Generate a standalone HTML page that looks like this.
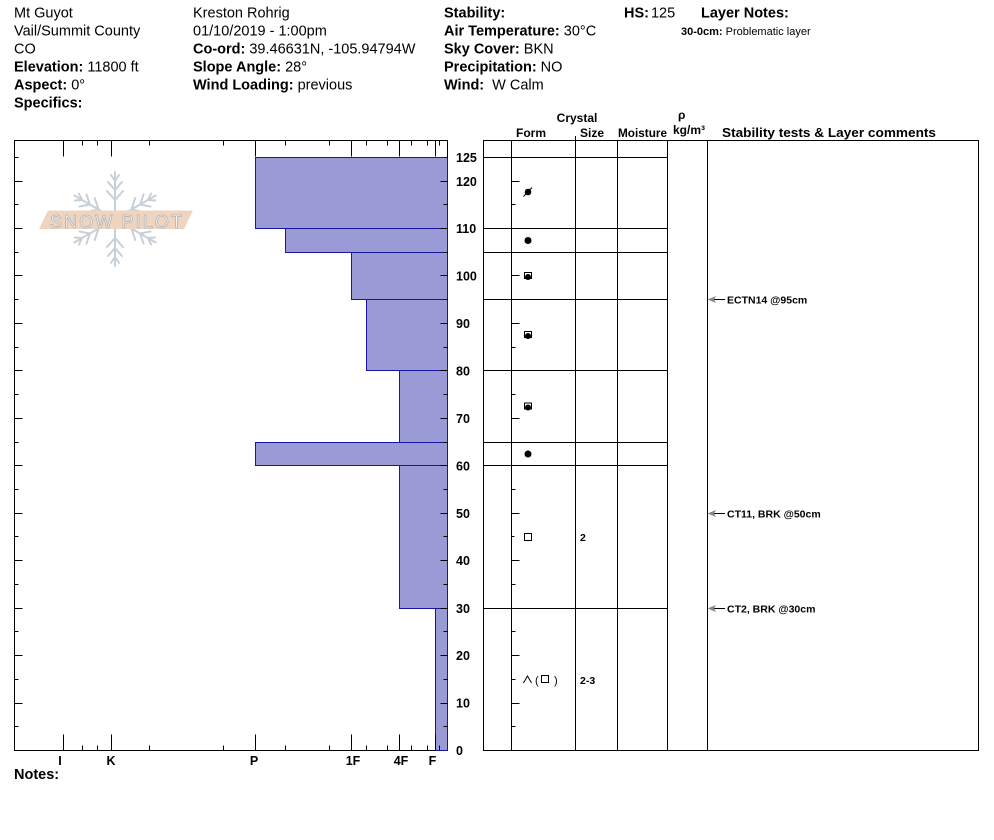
<!DOCTYPE html>
<html><head><meta charset="utf-8"><style>
html,body{margin:0;padding:0;background:#fff;}
svg{display:block;}
text{font-family:"Liberation Sans",Arial,sans-serif;}
.b{font-weight:bold;}
</style></head><body>
<svg width="994" height="840" viewBox="0 0 994 840" xmlns="http://www.w3.org/2000/svg">
<rect x="0" y="0" width="994" height="840" fill="#fff"/>

<!-- Header column 1 -->
<g font-size="14.5" fill="#000">
<text x="14" y="17.3">Mt Guyot</text>
<text x="14" y="35.3">Vail/Summit County</text>
<text x="14" y="53.3">CO</text>
<text x="14" y="71.3"><tspan class="b">Elevation:</tspan> 11800 ft</text>
<text x="14" y="89.3"><tspan class="b">Aspect:</tspan> 0°</text>
<text x="14" y="107.3" class="b">Specifics:</text>

<text x="193" y="17.3">Kreston Rohrig</text>
<text x="193" y="35.3">01/10/2019 - 1:00pm</text>
<text x="193" y="53.3"><tspan class="b">Co-ord:</tspan> 39.46631N, -105.94794W</text>
<text x="193" y="71.3"><tspan class="b">Slope Angle:</tspan> 28°</text>
<text x="193" y="89.3"><tspan class="b">Wind Loading:</tspan> previous</text>

<text x="444" y="17.3" class="b">Stability:</text>
<text x="444" y="35.3"><tspan class="b">Air Temperature:</tspan> 30°C</text>
<text x="444" y="53.3"><tspan class="b">Sky Cover:</tspan> BKN</text>
<text x="444" y="71.3"><tspan class="b">Precipitation:</tspan> NO</text>
<text x="444" y="89.3"><tspan class="b">Wind:</tspan><tspan dx="8">W Calm</tspan></text>

<text x="624" y="17.3"><tspan class="b">HS:</tspan><tspan dx="2">125</tspan></text>
<text x="701" y="17.3" class="b">Layer Notes:</text>
</g>
<text x="681" y="35" font-size="11" fill="#000"><tspan class="b">30-0cm:</tspan> Problematic layer</text>

<!-- Table header -->
<g font-size="12" fill="#000">
<text x="577" y="122" text-anchor="middle" class="b">Crystal</text>
<text x="516" y="137" class="b">Form</text>
<text x="580" y="137" class="b">Size</text>
<text x="618" y="137" class="b" textLength="49" lengthAdjust="spacingAndGlyphs">Moisture</text>
<text x="678" y="119" class="b">ρ</text>
<text x="673" y="134" class="b">kg/m³</text>
<text x="722" y="137" class="b" font-size="12.5" textLength="214" lengthAdjust="spacingAndGlyphs">Stability tests &amp; Layer comments</text>
</g>

<!-- Logo -->
<g transform="translate(115,219)" stroke="#c7d0d8" stroke-width="2" stroke-linecap="round" fill="none">
  <path d="M0,-6 V-47 M0,-19 L-8,-28 M0,-19 L8,-28 M0,-29 L-7,-37 M0,-29 L7,-37 M0,-38 L-4,-44 M0,-38 L4,-44"/>
  <g transform="rotate(60)"><path d="M0,-6 V-47 M0,-19 L-8,-28 M0,-19 L8,-28 M0,-29 L-7,-37 M0,-29 L7,-37 M0,-38 L-4,-44 M0,-38 L4,-44"/></g>
  <g transform="rotate(120)"><path d="M0,-6 V-47 M0,-19 L-8,-28 M0,-19 L8,-28 M0,-29 L-7,-37 M0,-29 L7,-37 M0,-38 L-4,-44 M0,-38 L4,-44"/></g>
  <g transform="rotate(180)"><path d="M0,-6 V-47 M0,-19 L-8,-28 M0,-19 L8,-28 M0,-29 L-7,-37 M0,-29 L7,-37 M0,-38 L-4,-44 M0,-38 L4,-44"/></g>
  <g transform="rotate(240)"><path d="M0,-6 V-47 M0,-19 L-8,-28 M0,-19 L8,-28 M0,-29 L-7,-37 M0,-29 L7,-37 M0,-38 L-4,-44 M0,-38 L4,-44"/></g>
  <g transform="rotate(300)"><path d="M0,-6 V-47 M0,-19 L-8,-28 M0,-19 L8,-28 M0,-29 L-7,-37 M0,-29 L7,-37 M0,-38 L-4,-44 M0,-38 L4,-44"/></g>
</g>
<polygon points="48,210.5 193,210.5 184,229 39,229" fill="#efd5c0"/>
<text x="50" y="228" font-size="18" style="fill:#f8f8f8;stroke:#adadad;stroke-width:0.7" textLength="132" lengthAdjust="spacing">SNOW PILOT</text>

<!-- Left chart frame -->
<path d="M14.5,140.5 H447.5 V750.5 H14.5 Z" fill="none" stroke="#000" stroke-width="1"/>

<!-- Bars -->
<g fill="#9a9ad6" stroke="#1616a2" stroke-width="1">
<rect x="255.5" y="157.5" width="192" height="71"/>
<rect x="285.5" y="228.5" width="162" height="24"/>
<rect x="351.5" y="252.5" width="96" height="47"/>
<rect x="366.5" y="299.5" width="81" height="71"/>
<rect x="399.5" y="370.5" width="48" height="72"/>
<rect x="255.5" y="442.5" width="192" height="23"/>
<rect x="399.5" y="465.5" width="48" height="143"/>
<rect x="435.5" y="608.5" width="12" height="142"/>
</g>

<!-- Ticks -->
<g stroke="#000" stroke-width="1" fill="none">
<path d="M63.5,140.5v16 M111.5,140.5v16 M255.5,140.5v16 M351.5,140.5v16 M399.5,140.5v16 M435.5,140.5v16
M82.5,140.5v5 M97.5,140.5v5 M149.5,140.5v5 M223.5,140.5v5 M285.5,140.5v5 M329.5,140.5v5 M366.5,140.5v5 M387.5,140.5v5 M411.5,140.5v5 M427.5,140.5v5 M439.5,140.5v5
M63.5,750.5v-16 M111.5,750.5v-16 M255.5,750.5v-16 M351.5,750.5v-16 M399.5,750.5v-16 M435.5,750.5v-16
M82.5,750.5v-5 M97.5,750.5v-5 M149.5,750.5v-5 M223.5,750.5v-5 M285.5,750.5v-5 M329.5,750.5v-5 M366.5,750.5v-5 M387.5,750.5v-5 M411.5,750.5v-5 M427.5,750.5v-5 M439.5,750.5v-5"/>
<path d="M14.5,726.5h4 M14.5,703.5h8 M14.5,679.5h4 M14.5,655.5h8 M14.5,631.5h4 M14.5,608.5h8 M14.5,584.5h4 M14.5,560.5h8 M14.5,536.5h4 M14.5,513.5h8 M14.5,489.5h4 M14.5,465.5h8 M14.5,442.5h4 M14.5,418.5h8 M14.5,394.5h4 M14.5,370.5h8 M14.5,347.5h4 M14.5,323.5h8 M14.5,299.5h4 M14.5,275.5h8 M14.5,252.5h4 M14.5,228.5h8 M14.5,204.5h4 M14.5,181.5h8 M14.5,157.5h4"/>
<path d="M447.5,726.5h-4 M447.5,703.5h-7 M447.5,679.5h-4 M447.5,655.5h-7 M447.5,631.5h-4 M447.5,608.5h-7 M447.5,584.5h-4 M447.5,560.5h-7 M447.5,536.5h-4 M447.5,513.5h-7 M447.5,489.5h-4 M447.5,465.5h-7 M447.5,442.5h-4 M447.5,418.5h-7 M447.5,394.5h-4 M447.5,370.5h-7 M447.5,347.5h-4 M447.5,323.5h-7 M447.5,299.5h-4 M447.5,275.5h-7 M447.5,252.5h-4 M447.5,228.5h-7 M447.5,204.5h-4 M447.5,181.5h-7 M447.5,157.5h-4"/>
</g>

<!-- Y labels -->
<g font-size="12.5" fill="#000">
<text x="456" y="162" class="b">125</text>
<text x="456" y="186" class="b">120</text>
<text x="456" y="233" class="b">110</text>
<text x="456" y="280.5" class="b">100</text>
<text x="456" y="328" class="b">90</text>
<text x="456" y="375.5" class="b">80</text>
<text x="456" y="423" class="b">70</text>
<text x="456" y="470.5" class="b">60</text>
<text x="456" y="518" class="b">50</text>
<text x="456" y="565" class="b">40</text>
<text x="456" y="613" class="b">30</text>
<text x="456" y="660" class="b">20</text>
<text x="456" y="707.5" class="b">10</text>
<text x="456" y="755" class="b">0</text>
</g>

<!-- X labels -->
<g font-size="12.5" text-anchor="middle" fill="#000">
<text x="60" y="765" class="b">I</text>
<text x="111" y="765" class="b">K</text>
<text x="254" y="765" class="b">P</text>
<text x="353" y="765" class="b">1F</text>
<text x="401" y="765" class="b">4F</text>
<text x="432.5" y="765" class="b">F</text>
</g>
<text x="14" y="779" font-size="14.5" class="b" fill="#000">Notes:</text>

<!-- Right chart -->
<g stroke="#000" stroke-width="1" fill="none">
<rect x="483.5" y="140.5" width="495" height="610"/>
<path d="M511.5,140.5V750.5 M575.5,140.5V750.5 M617.5,140.5V750.5 M667.5,140.5V750.5 M707.5,140.5V750.5"/>
<path d="M483.5,157.5H667.5 M483.5,228.5H667.5 M483.5,252.5H667.5 M483.5,299.5H667.5 M483.5,370.5H667.5 M483.5,442.5H667.5 M483.5,465.5H667.5 M483.5,608.5H667.5"/>
<path d="M575.5,136v5"/>
<path d="M511.5,726.5h4 M511.5,703.5h8 M511.5,679.5h4 M511.5,655.5h8 M511.5,631.5h4 M511.5,608.5h8 M511.5,584.5h4 M511.5,560.5h8 M511.5,536.5h3 M511.5,513.5h8 M511.5,489.5h4 M511.5,465.5h8 M511.5,442.5h4 M511.5,418.5h8 M511.5,394.5h4 M511.5,370.5h8 M511.5,347.5h4 M511.5,323.5h8 M511.5,299.5h4 M511.5,275.5h8 M511.5,252.5h4 M511.5,228.5h8 M511.5,204.5h4 M511.5,181.5h8 M511.5,157.5h4"/>
</g>

<!-- Form symbols -->
<g fill="#000" stroke="#000">
<circle cx="528" cy="192" r="3.3" stroke="none"/>
<path d="M523.5,196.5 L532,187.5" stroke-width="1" fill="none"/>
<circle cx="528" cy="240.5" r="3.5" stroke="none"/>
<rect x="524.5" y="272.5" width="7" height="6" fill="none" stroke-width="1"/>
<circle cx="528" cy="277" r="3" stroke="none"/>
<rect x="524.5" y="331.5" width="7" height="6" fill="none" stroke-width="1"/>
<circle cx="528" cy="336" r="3" stroke="none"/>
<rect x="524.5" y="403" width="7" height="6" fill="none" stroke-width="1"/>
<circle cx="528" cy="407.5" r="3" stroke="none"/>
<circle cx="528" cy="454" r="3.5" stroke="none"/>
<rect x="524.5" y="533.5" width="7" height="7" fill="none" stroke-width="1"/>
<path d="M523.5,683 L527.5,676 L531.5,683" fill="none" stroke-width="1"/>
<rect x="541.5" y="675.5" width="7" height="7" fill="none" stroke-width="1"/>
</g>
<text x="535" y="684" font-size="11" fill="#000">(</text>
<text x="554" y="684" font-size="11" fill="#000">)</text>

<!-- Size -->
<g font-size="10.5" fill="#000">
<text x="580" y="541" class="b">2</text>
<text x="580" y="684" class="b">2-3</text>
</g>

<!-- Stability tests -->
<g stroke="#000" stroke-width="1">
<path d="M709,299.5H725 M709,513.5H725 M709,608.5H725"/>
</g>
<g fill="#888" stroke="none">
<polygon points="707.5,299.5 716,296 714,299.5 716,303"/>
<polygon points="707.5,513.5 716,510 714,513.5 716,517"/>
<polygon points="707.5,608.5 716,605 714,608.5 716,612"/>
</g>
<g font-size="10.5" fill="#000">
<text x="727" y="303.5" class="b">ECTN14 @95cm</text>
<text x="727" y="517.5" class="b">CT11, BRK @50cm</text>
<text x="727" y="612.5" class="b">CT2, BRK @30cm</text>
</g>
</svg>
</body></html>
